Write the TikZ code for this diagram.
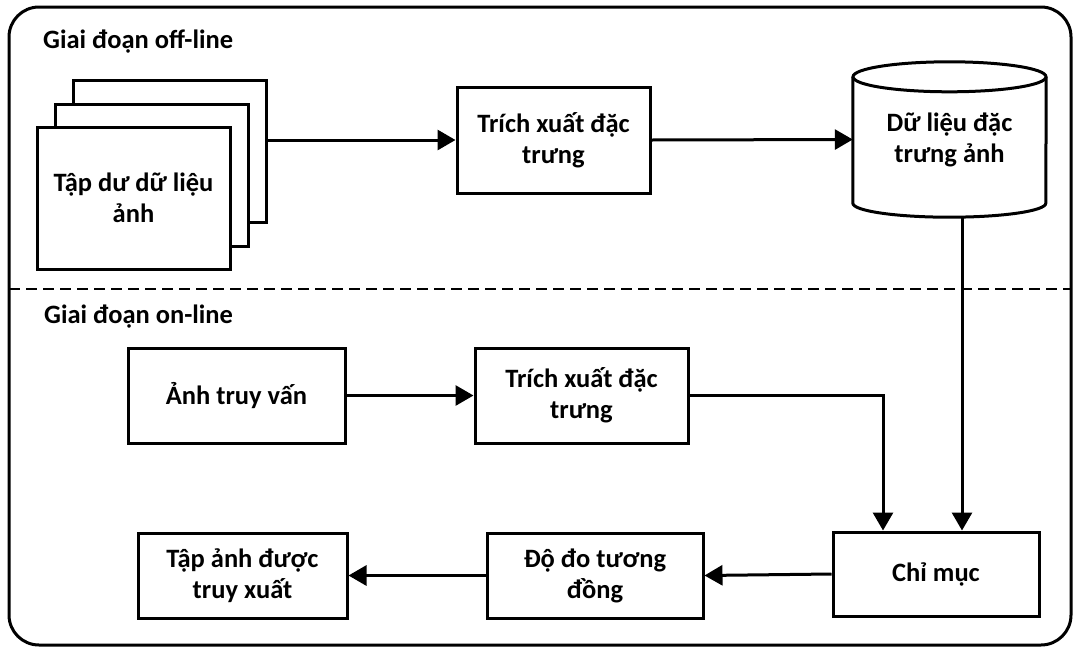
\documentclass[tikz,border=0pt]{standalone}
\usepackage{fontspec}
\setmainfont{Carlito}
\usetikzlibrary{arrows.meta,calc}

\tikzset{
  lbl/.style={font=\fontsize{26.5}{31}\selectfont\bfseries, align=center},
  stepbox/.style={draw, line width=3pt, fill=white, inner sep=0pt, lbl},
  page/.style={stepbox, minimum width=193pt, minimum height=142pt},
  arr/.style={line width=3pt, -{Triangle[length=18pt,width=20pt]}},
  link/.style={line width=3pt},
  phase/.style={font=\fontsize{26.5}{31}\selectfont\bfseries, anchor=west, inner sep=0pt}
}

\begin{document}
\begin{tikzpicture}[x=1pt, y=-1pt]
\useasboundingbox (0,0) rectangle (1079,651);

% outer frame and phase separator
\draw[line width=3pt, rounded corners=30pt] (9,7) rectangle (1071,645);
\coordinate (sepL) at (9,289);
\coordinate (sepR) at (1071,289);
\draw[line width=2pt, dash pattern=on 11pt off 6pt] (sepL) -- (sepR);

\node[phase] (offline) at (43,42) {Giai đoạn off-line};
\node[phase] (online) at (44,317) {Giai đoạn on-line};

% stacked image set
\node[page] (pg3) at (169.5,151) {};
\node[page] (pg2) at (151.5,175) {};
\node[page] (pg1) at (133.5,198) {Tập dư dữ liệu\\ảnh};

% off-line feature extraction
\node[stepbox, minimum width=193pt, minimum height=106pt] (t1) at (553.5,140) {Trích xuất đặc\\trưng};

% feature database (cylinder)
\node[lbl, minimum width=193pt, minimum height=155pt, inner sep=0pt] (db) at (949.5,139.5) {Dữ liệu đặc\\trưng ảnh};
\draw[link] ($(db.north)+(0,15)$) ellipse [x radius=96.5pt, y radius=15pt];
\draw[link] ($(db.north west)+(0,15)$) -- ($(db.south west)+(0,-14)$)
  arc[start angle=180, end angle=360, x radius=96.5pt, y radius=14pt]
  -- ($(db.north east)+(0,15)$);

% on-line stage
\node[stepbox, minimum width=217pt, minimum height=95pt] (q) at (236.5,395.5) {Ảnh truy vấn};
\node[stepbox, minimum width=213pt, minimum height=95pt] (t2) at (581.5,395.5) {Trích xuất đặc\\trưng};
\node[stepbox, minimum width=206pt, minimum height=84pt] (cm) at (936,574) {Chỉ mục};
\node[stepbox, minimum width=216pt, minimum height=85pt] (dd) at (595,575.5) {Độ đo tương\\đồng};
\node[stepbox, minimum width=209pt, minimum height=85pt] (ta) at (242.5,575.5) {Tập ảnh được\\truy xuất};

% connectors
\draw[arr] (pg3.east |- t1.west) -- (t1.west);
\draw[arr] (t1.east) -- (db.west);
\draw[arr] ([xshift=12.5pt]db.south) -- ([xshift=12.5pt]db.south |- cm.north);
\draw[arr] (q.east) -- (t2.west);
\draw[arr] (t2.east) -| ([xshift=-53pt]cm.north);
\draw[arr] (cm.west) -- (dd.east);
\draw[arr] (dd.west) -- (ta.east);
\end{tikzpicture}
\end{document}
